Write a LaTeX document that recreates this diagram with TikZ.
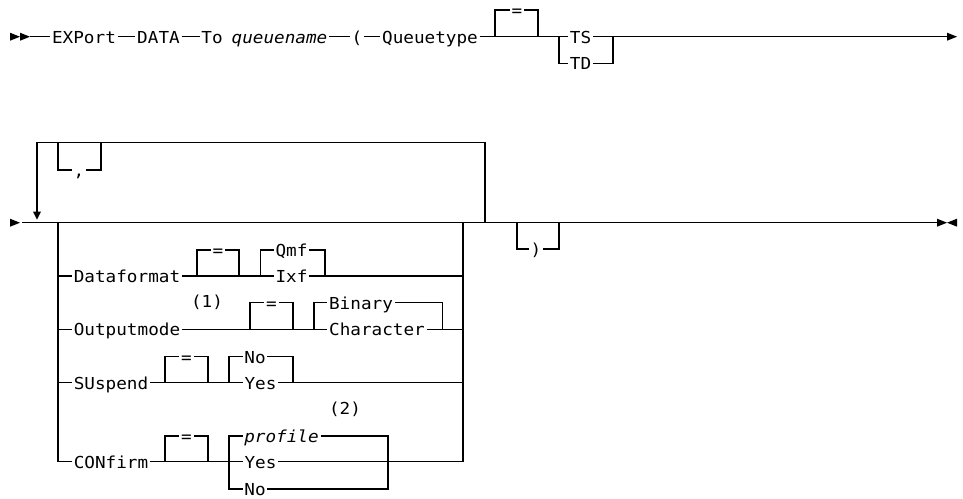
\documentclass[tikz,border=0pt]{standalone}
\usepackage{fontspec}
\newfontfamily\rrfont[FakeStretch=1.07]{DejaVu Sans Mono}
\begin{document}
\begin{tikzpicture}[x=1pt,y=-1pt,
  rr/.style={font=\rrfont\fontsize{16.5}{18}\selectfont, inner xsep=1.6pt, inner ysep=0pt,
    text height=12.8pt, text depth=0pt, anchor=center},
  rri/.style={rr, font=\rrfont\itshape\fontsize{16.5}{18}\selectfont},
  note/.style={font=\rrfont\fontsize{16.5}{18}\selectfont, inner sep=0pt},
  ln/.style={line width=1.35pt, line cap=butt, line join=miter},
  tip/.style={fill=black, draw=none}]
\useasboundingbox (0,0) rectangle (963,498);

% ---------- Row 1 ----------
\node[rr]  (EXPort) at (84,36.7) {EXPort};
\node[rr]  (DATA)   at (158.5,36.7) {DATA};
\node[rr]  (To)     at (212,36.7) {To};
\node[rri] (qn)     at (279.5,36.7) {queuename};
\node[rr]  (lp)     at (357,36.7) {(};
\node[rr]  (QT)     at (430,36.7) {Queuetype};
\node[rr]  (eqQ)    at (517,10) {=};
\node[rr]  (TS)     at (580.5,36.7) {TS};
\node[rr]  (TD)     at (580.5,63.3) {TD};

\coordinate (s1) at (30,36.7);
\coordinate (e1) at (947,36.7);
\coordinate (bQl) at (495,36.7);
\coordinate (bQr) at (538,36.7);
\coordinate (cQl) at (559,36.7);
\coordinate (cQr) at (613,36.7);

\fill[tip] (10,32.7) -- (20,36.7) -- (10,40.7) -- cycle;
\fill[tip] (20,32.7) -- (30,36.7) -- (20,40.7) -- cycle;
\draw[ln] (s1) -- (EXPort) -- (DATA) -- (To);
\draw[ln] (qn) -- (lp) -- (QT) -- (TS) -- (e1);
\draw[ln] (bQl) |- (eqQ);
\draw[ln] (eqQ) -| (bQr);
\draw[ln] (cQl) |- (TD);
\draw[ln] (TD) -| (cQr);
\fill[tip] (947,32.7) -- (957,36.7) -- (947,40.7) -- cycle;

% ---------- Row 2 ----------
\coordinate (s2) at (22,222.7);
\coordinate (e2) at (937,222.7);
\fill[tip] (10,218.7) -- (20,222.7) -- (10,226.7) -- cycle;
\draw[ln] (s2) -- (e2);
\fill[tip] (937,218.7) -- (947,222.7) -- (937,226.7) -- cycle;
\fill[tip] (957,218.7) -- (947,222.7) -- (957,226.7) -- cycle;
\draw[line width=1.7pt] (565,222.5) -- (585,222.5);

% repeat loop
\coordinate (lpA)  at (37,211.5);
\coordinate (lpR)  at (485,222.7);
\node[rr] (comma) at (79,170) {,};
\draw[ln] (lpA) |- (485,142.7) -- (lpR);
\fill[tip] (33,211.5) -- (41,211.5) -- (37,219.5) -- cycle;
\draw[ln] (58,142.7) |- (comma);
\draw[ln] (comma) -| (101,142.7);

% optional )
\node[rr] (rp) at (536,249) {)};
\draw[ln] (517,222.7) |- (rp);
\draw[ln] (rp) -| (559,222.7);

% choice box
\coordinate (bxL) at (58,222.7);
\coordinate (bxR) at (463,222.7);

% Dataformat
\node[rr] (Dataformat) at (127,276) {Dataformat};
\node[rr] (eqD) at (218,250) {=};
\node[rr] (Qmf) at (291.5,250) {Qmf};
\node[rr] (Ixf) at (291.5,276) {Ixf};
\draw[ln] (58,276) -- (Dataformat) -- (Ixf) -- (463,276);
\draw[ln] (197,276) |- (eqD);
\draw[ln] (eqD) -| (239,276);
\draw[ln] (260.7,276) |- (Qmf);
\draw[ln] (Qmf) -| (325,276);

% Outputmode
\node[rr] (Outputmode) at (127,329.3) {Outputmode};
\node[note] (n1) at (207,302) {(1)};
\node[rr] (eqO) at (271.5,302.7) {=};
\node[rr] (Binary) at (361,302.7) {Binary};
\node[rr] (Character) at (377,329.3) {Character};
\draw[ln] (58,329.3) -- (Outputmode) -- (Character) -- (463,329.3);
\draw[ln] (250,329.3) |- (eqO);
\draw[ln] (eqO) -| (293,329.3);
\draw[ln] (314,329.3) |- (Binary);
\draw[ln] (Binary) -| (442.7,329.3);

% SUspend
\node[rr] (SUspend) at (111,382.7) {SUspend};
\node[rr] (eqS) at (186.5,356.7) {=};
\node[rr] (NoS) at (255,356.7) {No};
\node[rr] (YesS) at (260.5,382.7) {Yes};
\draw[ln] (58,382.7) -- (SUspend) -- (YesS) -- (463,382.7);
\draw[ln] (165,382.7) |- (eqS);
\draw[ln] (eqS) -| (208,382.7);
\draw[ln] (229,382.7) |- (NoS);
\draw[ln] (NoS) -| (293,382.7);

% CONfirm
\node[rr] (CONfirm) at (111,461.7) {CONfirm};
\node[rr] (eqC) at (186.5,436) {=};
\node[rri] (profile) at (281.5,436) {profile};
\node[rr] (YesC) at (260.5,461.7) {Yes};
\node[rr] (NoC) at (255,489) {No};
\node[note] (n2) at (345,409) {(2)};
\draw[ln] (bxL) |- (CONfirm);
\draw[ln] (CONfirm) -- (YesC) -- (463,461.7) -- (bxR);
\draw[ln] (165,461.7) |- (eqC);
\draw[ln] (eqC) -| (208,461.7);
\draw[ln] (229,461.7) |- (profile);
\draw[ln] (229,461.7) |- (NoC);
\draw[ln] (profile) -| (388,489) -- (NoC);
\end{tikzpicture}
\end{document}
